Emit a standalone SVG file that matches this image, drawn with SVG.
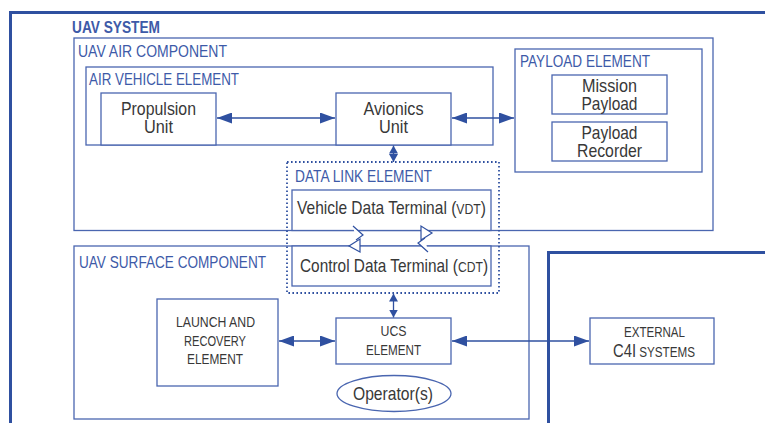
<svg xmlns="http://www.w3.org/2000/svg" width="765" height="423" viewBox="0 0 765 423">
  <style>
    .box { fill: #ffffff; stroke: #4a66b0; stroke-width: 1.3; }
    .thick { fill: none; stroke: #2f50a0; stroke-width: 3; }
    .dot { fill: none; stroke: #2f50a0; stroke-width: 1.8; stroke-dasharray: 1.6 2.4; }
    text { font-family: "Liberation Sans", Arial, sans-serif; }
    .lbl { fill: #3d5aa8; font-size: 16.5px; }
    .ttl { fill: #3d5aa8; font-size: 17px; font-weight: bold; }
    .txt { fill: #383838; font-size: 19px; text-anchor: middle; }
    .sm { fill: #383838; font-size: 15px; text-anchor: middle; }
    .link { fill: none; stroke: #2f50a0; stroke-width: 1.3; }
    .bolt { fill: #ffffff; stroke: #2f50a0; stroke-width: 1.2; stroke-linejoin: miter; }
  </style>
  <defs>
    <marker id="ah" markerUnits="userSpaceOnUse" markerWidth="15" markerHeight="11" refX="15" refY="5.5" orient="auto-start-reverse">
      <path d="M0,0 L15,5.5 L0,11 z" fill="#2f50a0"/>
    </marker>
    <marker id="ahs" markerUnits="userSpaceOnUse" markerWidth="8" markerHeight="9" refX="8" refY="4.5" orient="auto-start-reverse">
      <path d="M0,0 L8,4.5 L0,9 z" fill="#2f50a0"/>
    </marker>
  </defs>

  <!-- overall system frame -->
  <g id="uav-system">
    <path class="thick" d="M10.5,423 V12.5 H765"/>
    <text class="ttl" x="72" y="33" textLength="88" lengthAdjust="spacingAndGlyphs">UAV SYSTEM</text>
  </g>

  <!-- air component -->
  <g id="air-component">
    <rect class="box" x="74" y="38" width="639" height="192.5"/>
    <text class="lbl" x="78" y="57" textLength="149" lengthAdjust="spacingAndGlyphs">UAV AIR COMPONENT</text>
  </g>

  <g id="air-vehicle-element">
    <rect class="box" x="86" y="67" width="407" height="78"/>
    <text class="lbl" x="89" y="85" textLength="150" lengthAdjust="spacingAndGlyphs">AIR VEHICLE ELEMENT</text>
  </g>

  <g id="propulsion-unit">
    <rect class="box" x="101" y="93" width="115" height="52"/>
    <text class="txt" x="158.5" y="115" textLength="75" lengthAdjust="spacingAndGlyphs">Propulsion</text>
    <text class="txt" x="158.5" y="133" textLength="29" lengthAdjust="spacingAndGlyphs">Unit</text>
  </g>

  <g id="avionics-unit">
    <rect class="box" x="336" y="93" width="115" height="52"/>
    <text class="txt" x="393.5" y="115" textLength="60" lengthAdjust="spacingAndGlyphs">Avionics</text>
    <text class="txt" x="393.5" y="133" textLength="29" lengthAdjust="spacingAndGlyphs">Unit</text>
  </g>

  <g id="payload-element">
    <rect class="box" x="515" y="49" width="187" height="123"/>
    <text class="lbl" x="520" y="67" textLength="130" lengthAdjust="spacingAndGlyphs">PAYLOAD ELEMENT</text>
  </g>

  <g id="mission-payload">
    <rect class="box" x="552" y="75" width="115" height="39"/>
    <text class="txt" x="609.5" y="92" textLength="55" lengthAdjust="spacingAndGlyphs">Mission</text>
    <text class="txt" x="609.5" y="110" textLength="56" lengthAdjust="spacingAndGlyphs">Payload</text>
  </g>

  <g id="payload-recorder">
    <rect class="box" x="552" y="122" width="115" height="39"/>
    <text class="txt" x="609.5" y="139" textLength="56" lengthAdjust="spacingAndGlyphs">Payload</text>
    <text class="txt" x="609.5" y="157" textLength="65" lengthAdjust="spacingAndGlyphs">Recorder</text>
  </g>

  <!-- surface component -->
  <g id="surface-component">
    <rect class="box" x="74" y="246" width="455" height="173"/>
    <text class="lbl" x="79" y="268" textLength="187" lengthAdjust="spacingAndGlyphs">UAV SURFACE COMPONENT</text>
  </g>

  <!-- data link element spans both components -->
  <g id="data-link-element">
    <rect class="dot" x="287" y="162" width="212" height="131"/>
    <text class="lbl" x="295" y="182" textLength="137" lengthAdjust="spacingAndGlyphs">DATA LINK ELEMENT</text>
  </g>

  <g id="vdt">
    <rect class="box" x="292" y="190" width="199" height="40.5"/>
    <text class="txt" x="391.5" y="214" textLength="189" lengthAdjust="spacingAndGlyphs">Vehicle Data Terminal (<tspan font-size="15">VDT</tspan>)</text>
  </g>

  <g id="cdt">
    <rect class="box" x="292" y="246" width="199" height="40"/>
    <text class="txt" x="394" y="272" textLength="188" lengthAdjust="spacingAndGlyphs">Control Data Terminal (<tspan font-size="15">CDT</tspan>)</text>
  </g>

  <g id="launch-recovery">
    <rect class="box" x="157" y="299" width="121" height="87"/>
    <text class="sm" x="215.5" y="327" textLength="79" lengthAdjust="spacingAndGlyphs">LAUNCH AND</text>
    <text class="sm" x="215" y="346" textLength="62" lengthAdjust="spacingAndGlyphs">RECOVERY</text>
    <text class="sm" x="215" y="364" textLength="56" lengthAdjust="spacingAndGlyphs">ELEMENT</text>
  </g>

  <g id="ucs-element">
    <rect class="box" x="336" y="318" width="115" height="46"/>
    <text class="sm" x="393.5" y="336" textLength="26" lengthAdjust="spacingAndGlyphs">UCS</text>
    <text class="sm" x="393.5" y="355" textLength="55" lengthAdjust="spacingAndGlyphs">ELEMENT</text>
  </g>

  <g id="operators">
    <ellipse class="box" cx="394" cy="393.5" rx="57" ry="18"/>
    <text class="txt" x="393" y="400" textLength="80" lengthAdjust="spacingAndGlyphs">Operator(s)</text>
  </g>

  <!-- external systems frame -->
  <g id="external-frame">
    <path class="thick" d="M548.5,423 V252.5 H765"/>
  </g>

  <g id="external-c4i">
    <rect class="box" x="590" y="318" width="124" height="46"/>
    <text class="sm" x="654.5" y="337" textLength="61" lengthAdjust="spacingAndGlyphs">EXTERNAL</text>
    <text class="sm" x="654" y="357" textLength="82" lengthAdjust="spacingAndGlyphs"><tspan font-size="19">C4I</tspan> SYSTEMS</text>
  </g>

  <!-- connectors -->
  <g id="connectors">
    <line class="link" x1="217" y1="118" x2="335" y2="118" marker-start="url(#ah)" marker-end="url(#ah)"/>
    <line class="link" x1="452" y1="118" x2="514" y2="118" marker-start="url(#ah)" marker-end="url(#ah)"/>
    <line class="link" x1="393.5" y1="145.5" x2="393.5" y2="162" marker-start="url(#ahs)" marker-end="url(#ahs)"/>
    <line class="link" x1="393.5" y1="293.5" x2="393.5" y2="317.5" marker-start="url(#ahs)" marker-end="url(#ahs)"/>
    <line class="link" x1="279" y1="341" x2="335" y2="341" marker-start="url(#ah)" marker-end="url(#ah)"/>
    <line class="link" x1="452" y1="341" x2="589" y2="341" marker-start="url(#ah)" marker-end="url(#ah)"/>
    <!-- radio links between terminals -->
    <path class="bolt" d="M353,226 L363,235 L356,240"/>
    <path class="bolt" d="M349,246 L360,239 L360,252 z"/>
    <path class="bolt" d="M428,252 L418,243 L425,238"/>
    <path class="bolt" d="M432,233 L421,240 L421,226 z"/>
  </g>
</svg>
